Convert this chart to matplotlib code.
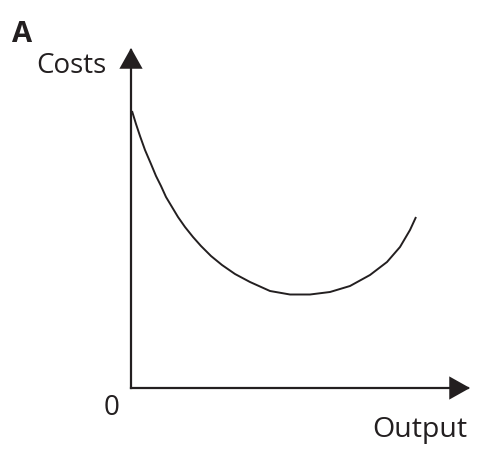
import matplotlib
matplotlib.use("Agg")
import matplotlib.pyplot as plt
from matplotlib.patches import FancyArrowPatch

# curva de costes (output, costs)
output = [1, 5, 9, 14, 20, 25, 30, 35, 41, 47, 54, 62, 70, 80, 91, 104, 119, 139, 159,
          179, 199, 219, 239, 256, 269, 279, 285]
costs = [277, 264, 252, 238, 224, 212, 202, 191, 181, 171, 161, 151, 142, 132, 123, 114, 106,
         97, 93.5, 93.5, 96, 102, 113, 126, 141, 158, 171]

W, H = 478, 450
ox, oy = 131, 388  # origen en píxeles

fig = plt.figure(figsize=(W / 100, H / 100), dpi=100)
ax = fig.add_axes([0, 0, 1, 1])
ax.set_xlim(-ox, W - ox)
ax.set_ylim(oy - H, oy)
ax.axis("off")

col = "#231f20"
ax.plot(output, costs, color=col, lw=1.4, solid_capstyle="butt", solid_joinstyle="round")

for end in [(0, oy - 48), (470 - ox, 0)]:
    ax.add_patch(FancyArrowPatch((0, 0), end, arrowstyle="-|>,head_length=1.25,head_width=0.7",
                                 mutation_scale=10, lw=1.6, color=col,
                                 shrinkA=0, shrinkB=0, joinstyle="miter", capstyle="projecting"))

font = "Open Sans"
def put(px, py, s, size, weight="normal"):
    fig.text(px / W, 1 - py / H, s, fontsize=size, fontweight=weight, family=font,
             color=col, ha="left", va="baseline")

put(12, 42, "A", 21, "bold")
put(36, 73, "Costs", 20)
put(104, 415, "0", 20)
put(372, 437, "Output", 20.5)

fig.savefig("out.png", dpi=100)
